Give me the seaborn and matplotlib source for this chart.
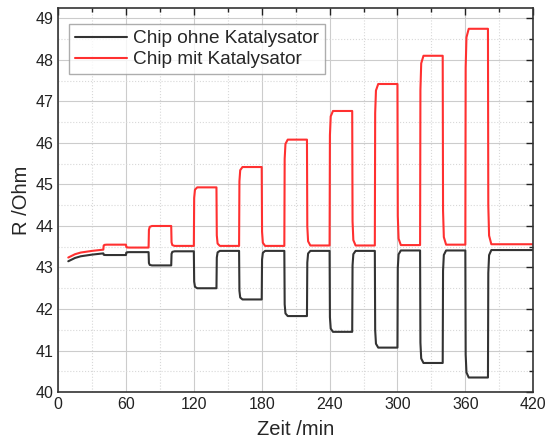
import numpy as np
import pandas as pd
import matplotlib
matplotlib.use("Agg")
import matplotlib.pyplot as plt
from matplotlib.ticker import MultipleLocator
import seaborn as sns

# Data
pulse_on = [40, 80, 120, 160, 200, 240, 280, 320, 360]
pulse_off = [60, 100, 140, 180, 220, 260, 300, 340, 380]

red_start_t = [9, 15, 20, 30, 40]
red_start_r = [43.24, 43.32, 43.36, 43.40, 43.43]
red_peak = [43.55, 44.00, 44.93, 45.42, 46.08, 46.77, 47.42, 48.10, 48.75]
red_base = [43.48, 43.52, 43.52, 43.52, 43.53, 43.53, 43.54, 43.55, 43.56]

black_start_t = [9, 15, 20, 30, 40]
black_start_r = [43.15, 43.23, 43.27, 43.31, 43.34]
black_peak = [43.30, 43.05, 42.50, 42.23, 41.83, 41.45, 41.07, 40.70, 40.35]
black_base = [43.37, 43.39, 43.40, 43.40, 43.40, 43.40, 43.41, 43.41, 43.42]

t_end = 420
labels = ["Chip ohne Katalysator", "Chip mit Katalysator"]

# shape of a switching edge (minutes after the switch, fraction of the step)
edge_dt = [0, 0.3, 1.0, 3.0]
edge_frac = [0, 0.82, 0.96, 1.0]


def build(start_t, start_r, peaks, bases):
    t = list(start_t[:-1])
    r = list(start_r[:-1])
    prev = start_r[-1]
    for on, off, pk, bs in zip(pulse_on, pulse_off, peaks, bases):
        t += [on + d for d in edge_dt]
        r += [prev + f * (pk - prev) for f in edge_frac]
        t += [off + d for d in edge_dt]
        r += [pk + f * (bs - pk) for f in edge_frac]
        prev = bs
    t.append(t_end)
    r.append(prev)
    return t, r


bt, br = build(black_start_t, black_start_r, black_peak, black_base)
rt, rr = build(red_start_t, red_start_r, red_peak, red_base)
df = pd.concat([
    pd.DataFrame({"t": bt, "R": br, "series": labels[0]}),
    pd.DataFrame({"t": rt, "R": rr, "series": labels[1]}),
])

sns.set_theme(style="white")
plt.rcParams["font.family"] = ["Liberation Sans", "DejaVu Sans"]

fig = plt.figure(figsize=(5.48, 4.46), dpi=100)
ax = fig.add_axes([0.106, 0.121, 0.867, 0.861])

sns.lineplot(data=df, x="t", y="R", hue="series", estimator=None, sort=False,
             palette={labels[0]: "#333333", labels[1]: "#ff3030"},
             linewidth=1.5, ax=ax)

ax.set_xlim(0, 420)
ax.set_ylim(40, 49.25)
ax.xaxis.set_major_locator(MultipleLocator(60))
ax.xaxis.set_minor_locator(MultipleLocator(30))
ax.yaxis.set_major_locator(MultipleLocator(1))
ax.yaxis.set_minor_locator(MultipleLocator(0.5))
ax.grid(which="major", color="#cccccc", linewidth=0.8, linestyle="-")
ax.grid(which="minor", color="#d8d8d8", linewidth=0.8, linestyle=":")
ax.set_axisbelow(True)
ax.tick_params(which="both", direction="in", top=True, right=True,
               labelsize=11.5, colors="#222222", width=1.0)
ax.tick_params(which="major", length=5)
ax.tick_params(which="minor", length=3)
for s in ax.spines.values():
    s.set_color("#333333")
    s.set_linewidth(1.2)

ax.set_xlabel("Zeit /min", fontsize=14.5, labelpad=6)
ax.set_ylabel("R /Ohm", fontsize=14.5, labelpad=3)

leg = ax.legend(loc="upper left", bbox_to_anchor=(0.024, 0.958), fontsize=13.7,
                frameon=True, fancybox=False, edgecolor="#999999",
                handlelength=2.7, borderpad=0.3, labelspacing=0.2,
                handletextpad=0.35, borderaxespad=0)
leg.get_frame().set_linewidth(1.0)

fig.savefig("out.png", dpi=100)
